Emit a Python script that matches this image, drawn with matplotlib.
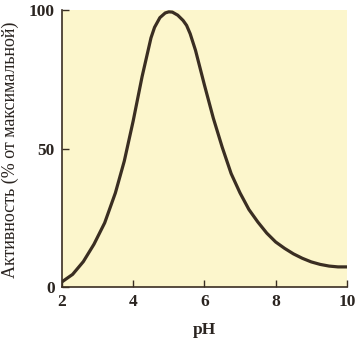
"""
pH dependence of enzyme activity (% of maximum).
"""

import matplotlib.pyplot as plt

# Values
PH_VALUES = [2.0, 2.3, 2.6, 2.9, 3.2, 3.5, 3.75, 4.0, 4.25, 4.5, 4.6,
             4.75, 4.9, 5.0, 5.1, 5.25, 5.4, 5.5, 5.6, 5.75, 6.0, 6.25,
             6.5, 6.75, 7.0, 7.25, 7.5, 7.75, 8.0, 8.25, 8.5, 8.75, 9.0,
             9.25, 9.5, 9.75, 10.0]
ACTIVITY = [1.9, 4.6, 9.2, 15.5, 23.2, 34.0, 45.5, 60.0, 76.0, 90.0, 93.8,
            97.3, 99.0, 99.4, 99.3, 98.2, 96.3, 94.5, 91.5, 85.5, 73.0, 61.0,
            50.5, 41.0, 34.0, 28.0, 23.5, 19.5, 16.3, 14.0, 12.0, 10.4, 9.1,
            8.2, 7.6, 7.3, 7.3]

X_TICKS = [2, 4, 6, 8, 10]
Y_TICKS = [0, 50, 100]

X_LABEL = "pH"
Y_LABEL = "Активность (% от максимальной)"

FONT = "Liberation Serif"
INK = "#2a2420"


def plot_activity():
    fig = plt.figure(figsize=(3.58, 3.51), dpi=100)
    ax = fig.add_axes([0.173, 0.182, 0.796, 0.789])
    ax.set_facecolor("#fcf6cc")

    ax.plot(PH_VALUES, ACTIVITY, color="#3a2e22", linewidth=2.3,
            solid_capstyle="round", solid_joinstyle="round")

    ax.set_xlim(2, 10)
    ax.set_ylim(0, 100)
    ax.set_xticks(X_TICKS)
    ax.set_yticks(Y_TICKS)

    for side in ("top", "right"):
        ax.spines[side].set_visible(False)
    for side in ("left", "bottom"):
        ax.spines[side].set_color("#3a2e22")
        ax.spines[side].set_linewidth(1.2)

    ax.tick_params(direction="in", length=5, width=1, color="#3a2e22",
                   pad=5)
    for label in ax.get_xticklabels() + ax.get_yticklabels():
        label.set_fontfamily(FONT)
        label.set_fontweight("bold")
        label.set_fontsize(12.5)
        label.set_color(INK)

    ax.set_xlabel(X_LABEL, fontfamily=FONT, fontweight="bold",
                  fontsize=12.5, color=INK)
    ax.xaxis.set_label_coords(0.5, -0.125)
    ax.set_ylabel(Y_LABEL, fontfamily=FONT, fontsize=13, color=INK)
    ax.yaxis.set_label_coords(-0.15, 0.495)

    fig.savefig("out.png", dpi=100, facecolor="white")


if __name__ == "__main__":
    plot_activity()
